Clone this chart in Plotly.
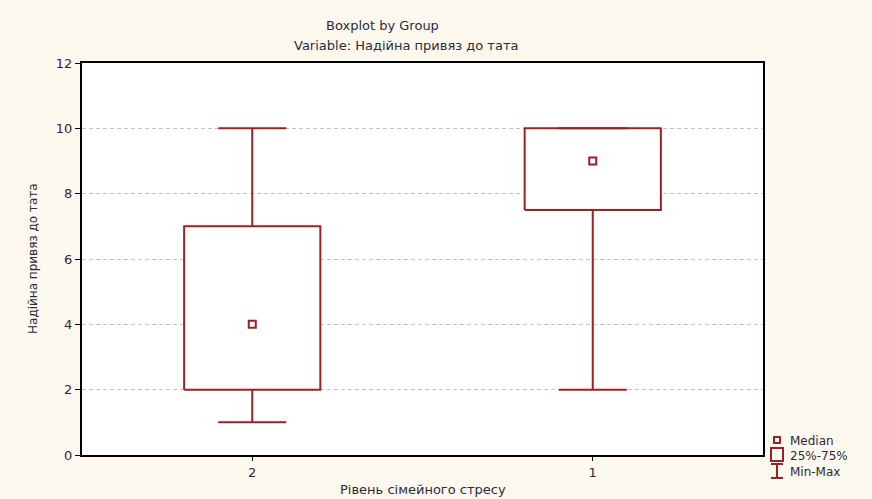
import plotly.graph_objects as go

groups = ["2", "1"]
mins = [1, 2]
q1s = [2, 7.5]
medians = [4, 9]
q3s = [7, 10]
maxs = [10, 10]

RED = "#9E1F24"
TXT = "#2a2a3a"
FONT = "DejaVu Sans, Liberation Sans, Arial, sans-serif"
box_half = 0.2
cap_half = 0.1

fig = go.Figure()
for i, g in enumerate(groups):
    x0, x1 = i - box_half, i + box_half
    fig.add_trace(go.Scatter(
        x=[x0, x1, x1, x0, x0], y=[q1s[i], q1s[i], q3s[i], q3s[i], q1s[i]],
        mode="lines", line=dict(color=RED, width=2), fill="toself",
        fillcolor="white", showlegend=False, hoverinfo="skip"))
    wx = [i, i, None, i, i, None,
          i - cap_half, i + cap_half, None, i - cap_half, i + cap_half]
    wy = [q3s[i], maxs[i], None, q1s[i], mins[i], None,
          maxs[i], maxs[i], None, mins[i], mins[i]]
    fig.add_trace(go.Scatter(x=wx, y=wy, mode="lines",
                             line=dict(color=RED, width=2),
                             showlegend=False, hoverinfo="skip"))
    fig.add_trace(go.Scatter(x=[i], y=[medians[i]], mode="markers",
                             marker=dict(symbol="square-open", size=7,
                                         color=RED, line=dict(width=2, color=RED)),
                             showlegend=False))

L, R, T, B = 82, 109, 63, 44
W, H = 872, 499
pw, ph = W - L - R, H - T - B

def px(x):
    return (x - L) / pw

def py(y):
    return (H - B - y) / ph

shapes = [
    dict(type="rect", xref="paper", yref="paper", x0=px(774), x1=px(780),
         y0=py(443), y1=py(437), line=dict(color=RED, width=2)),
    dict(type="rect", xref="paper", yref="paper", x0=px(771), x1=px(783),
         y0=py(461), y1=py(448), line=dict(color=RED, width=2)),
    dict(type="line", xref="paper", yref="paper", x0=px(777), x1=px(777),
         y0=py(478), y1=py(464), line=dict(color=RED, width=2)),
    dict(type="line", xref="paper", yref="paper", x0=px(771), x1=px(783),
         y0=py(464), y1=py(464), line=dict(color=RED, width=2)),
    dict(type="line", xref="paper", yref="paper", x0=px(771), x1=px(783),
         y0=py(478), y1=py(478), line=dict(color=RED, width=2)),
]
legend_texts = [("Median", 441), ("25%-75%", 456), ("Min-Max", 472)]
annotations = [dict(text=t, xref="paper", yref="paper", x=px(788), y=py(yy),
                    xanchor="left", yanchor="middle", showarrow=False,
                    font=dict(size=12, color=TXT))
               for t, yy in legend_texts]
annotations += [
    dict(text="Boxplot by Group", xref="paper", yref="paper", x=px(382), y=py(26),
         xanchor="center", yanchor="middle", showarrow=False,
         font=dict(size=13, color=TXT)),
    dict(text="Variable: Надійна привяз до тата", xref="paper", yref="paper",
         x=px(406), y=py(45), xanchor="center", yanchor="middle", showarrow=False,
         font=dict(size=13, color=TXT)),
    dict(text="Рівень сімейного стресу", xref="paper", yref="paper", x=0.5, y=py(490),
         xanchor="center", yanchor="middle", showarrow=False,
         font=dict(size=13, color=TXT)),
    dict(text="Надійна привяз до тата", xref="paper", yref="paper", x=px(33), y=0.5,
         xanchor="center", yanchor="middle", showarrow=False, textangle=-90,
         font=dict(size=12, color=TXT)),
]

fig.update_layout(
    width=W, height=H,
    margin=dict(l=L, r=R, t=T, b=B, autoexpand=False),
    paper_bgcolor="#FEF9EE", plot_bgcolor="white",
    font=dict(family=FONT, size=13, color=TXT),
    shapes=shapes, annotations=annotations,
    showlegend=False,
)
fig.update_xaxes(range=[-0.5, 1.5], tickvals=list(range(len(groups))), ticktext=groups,
                 showgrid=False, zeroline=False, showline=True, linecolor="black",
                 linewidth=2, mirror=True, ticks="outside", ticklen=4, tickcolor="black",
                 automargin=False)
fig.update_yaxes(range=[0, 12], dtick=2, showgrid=True, gridcolor="#C4C4C4",
                 griddash="4px,3px", zeroline=False, showline=True, linecolor="black",
                 linewidth=2, mirror=True, ticks="outside", ticklen=5, tickcolor="black",
                 automargin=False)

fig.write_html("out.html")
